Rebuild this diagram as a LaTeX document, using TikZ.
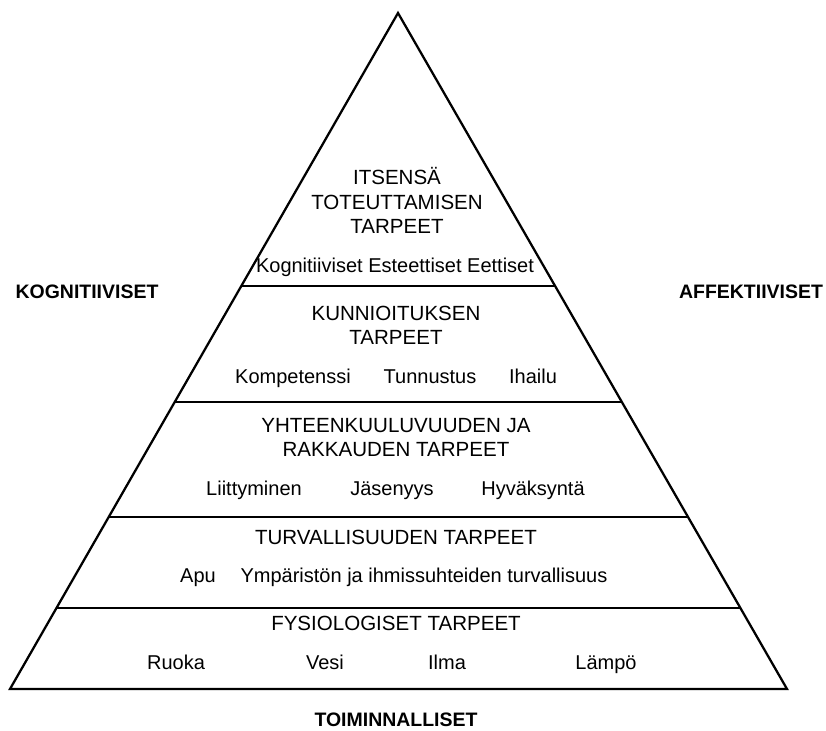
\documentclass[tikz,border=0pt]{standalone}
\usepackage{fontspec}
\setmainfont{Liberation Sans}
\usetikzlibrary{calc}
\begin{document}
\begin{tikzpicture}[x=0.75pt,y=-0.75pt,
  edge/.style={line width=1.7pt, line join=miter},
  title/.style={anchor=base, inner sep=0pt, font=\fontsize{15.4}{18}\selectfont},
  item/.style={anchor=base, inner sep=0pt, font=\fontsize{15}{18}\selectfont},
  side/.style={anchor=base, inner sep=0pt, font=\bfseries\fontsize{14.6}{17}\selectfont}]
\useasboundingbox (0,0) rectangle (826,731);

% pyramid outline
\coordinate (apex) at (398,13);
\coordinate (bl) at (10,689);
\coordinate (br) at (787,689);
\draw[edge] (apex) -- (bl) -- (br) -- cycle;

% boundaries between the levels
\foreach \n/\t in {a/0.4038, b/0.5754, c/0.7456, d/0.8802} {
  \coordinate (\n L) at ($(apex)!\t!(bl)$);
  \coordinate (\n R) at ($(apex)!\t!(br)$);
  \draw[edge] (\n L) -- (\n R);
}

% level 5
\node[title] (l5a) at (397,185) {ITSENSÄ};
\node[title] (l5b) at (397,210) {TOTEUTTAMISEN};
\node[title] (l5c) at (397,234) {TARPEET};
\node[item] (l5i) at (395,273) {Kognitiiviset Esteettiset Eettiset};

% level 4
\node[title] (l4a) at (396,321) {KUNNIOITUKSEN};
\node[title] (l4b) at (396,345) {TARPEET};
\node[item] (l4i1) at (293,383) {Kompetenssi};
\node[item] (l4i2) at (430,383) {Tunnustus};
\node[item] (l4i3) at (533,383) {Ihailu};

% level 3
\node[title] (l3a) at (396,432) {YHTEENKUULUVUUDEN JA};
\node[title] (l3b) at (396,456) {RAKKAUDEN TARPEET};
\node[item] (l3i1) at (254,495) {Liittyminen};
\node[item] (l3i2) at (392,495) {Jäsenyys};
\node[item] (l3i3) at (533,495) {Hyväksyntä};

% level 2
\node[title] (l2a) at (396,544) {TURVALLISUUDEN TARPEET};
\node[item] (l2i1) at (198,582) {Apu};
\node[item] (l2i2) at (424,582) {Ympäristön ja ihmissuhteiden turvallisuus};

% level 1
\node[title] (l1a) at (396,630) {FYSIOLOGISET TARPEET};
\node[item] (l1i1) at (176,669) {Ruoka};
\node[item] (l1i2) at (325,669) {Vesi};
\node[item] (l1i3) at (447,669) {Ilma};
\node[item] (l1i4) at (606,669) {Lämpö};

% dimensions around the pyramid
\node[side] (kog) at (87,299) {KOGNITIIVISET};
\node[side] (aff) at (751,299) {AFFEKTIIVISET};
\node[side] (toi) at (396,726) {TOIMINNALLISET};
\end{tikzpicture}
\end{document}
